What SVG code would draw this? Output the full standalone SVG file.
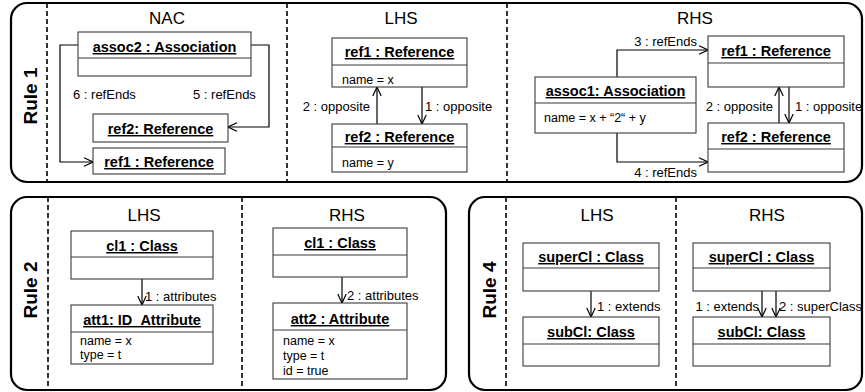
<svg xmlns="http://www.w3.org/2000/svg" width="865" height="392" viewBox="0 0 865 392">
<style>
.frame{fill:none;stroke:#000;stroke-width:2.2}
.dash{stroke:#000;stroke-width:1.6;stroke-dasharray:5,3}
.box{fill:#fff;stroke:#3a3a3a;stroke-width:1.1}
.div{stroke:#3a3a3a;stroke-width:1.1}
.name{font-family:"Liberation Sans",Arial,sans-serif;font-size:14.5px;font-weight:bold;text-decoration:underline;text-anchor:middle;fill:#000}
.attr{font-family:"Liberation Sans",Arial,sans-serif;font-size:12.5px;fill:#000}
.lbl{font-family:"Liberation Sans",Arial,sans-serif;font-size:13px;fill:#000}
.end{text-anchor:end}
.title{font-family:"Liberation Sans",Arial,sans-serif;font-size:17px;text-anchor:middle;fill:#000}
.rule{font-family:"Liberation Sans",Arial,sans-serif;font-size:19px;font-weight:bold;text-anchor:middle;fill:#000}
.conn{fill:none;stroke:#000;stroke-width:1.2;marker-end:url(#arr)}
</style>
<defs>
<marker id="arr" viewBox="0 0 10 10" refX="10" refY="5" markerWidth="10" markerHeight="10" markerUnits="userSpaceOnUse" orient="auto">
<path d="M1,0.8 L10,5 L1,9.2" fill="none" stroke="#000" stroke-width="1.2"/>
</marker>
</defs>

<!-- Frames -->
<g id="rule1-frame">
<rect class="frame" x="11" y="3" width="851" height="179" rx="16" ry="16"/>
<line class="dash" x1="47" y1="3" x2="47" y2="182"/>
<line class="dash" x1="287" y1="3" x2="287" y2="182"/>
<line class="dash" x1="507" y1="3" x2="507" y2="182"/>
<text class="rule" transform="translate(37,96) rotate(-90)">Rule 1</text>
<text class="title" x="167" y="24">NAC</text>
<text class="title" x="401" y="24">LHS</text>
<text class="title" x="695" y="24">RHS</text>
</g>
<g id="rule2-frame">
<rect class="frame" x="11" y="197" width="435" height="193" rx="16" ry="16"/>
<line class="dash" x1="48" y1="197" x2="48" y2="390"/>
<line class="dash" x1="242" y1="197" x2="242" y2="390"/>
<text class="rule" transform="translate(37,290) rotate(-90)">Rule 2</text>
<text class="title" x="144" y="221">LHS</text>
<text class="title" x="347" y="221">RHS</text>
</g>
<g id="rule4-frame">
<rect class="frame" x="469" y="197" width="393" height="193" rx="16" ry="16"/>
<line class="dash" x1="506" y1="197" x2="506" y2="390"/>
<line class="dash" x1="676" y1="197" x2="676" y2="390"/>
<text class="rule" transform="translate(496,290) rotate(-90)">Rule 4</text>
<text class="title" x="597" y="221">LHS</text>
<text class="title" x="767" y="221">RHS</text>
</g>

<!-- Connectors -->
<g id="connectors">
<polyline class="conn" points="78,45 60,45 60,162 93,162"/>
<polyline class="conn" points="251,45 269,45 269,127 228,127"/>
<text class="lbl" x="73" y="99">6 : refEnds</text>
<text class="lbl" x="193" y="99">5 : refEnds</text>

<line class="conn" x1="377" y1="124" x2="377" y2="87"/>
<line class="conn" x1="422" y1="87" x2="422" y2="124"/>
<text class="lbl end" x="370" y="111">2 : opposite</text>
<text class="lbl" x="425" y="111">1 : opposite</text>

<polyline class="conn" points="617,77 617,50 708,50"/>
<polyline class="conn" points="617,133 617,162 708,162"/>
<text class="lbl end" x="697" y="46">3 : refEnds</text>
<text class="lbl end" x="697" y="177">4 : refEnds</text>
<line class="conn" x1="779" y1="123" x2="779" y2="87"/>
<line class="conn" x1="789" y1="87" x2="789" y2="123"/>
<text class="lbl end" x="773" y="111">2 : opposite</text>
<text class="lbl" x="795" y="111">1 : opposite</text>

<line class="conn" x1="142" y1="279" x2="142" y2="305"/>
<text class="lbl" x="145" y="301">1 : attributes</text>
<line class="conn" x1="342" y1="277" x2="342" y2="303"/>
<text class="lbl" x="347" y="300">2 : attributes</text>

<line class="conn" x1="591" y1="291" x2="591" y2="317"/>
<text class="lbl" x="597" y="311">1 : extends</text>
<line class="conn" x1="762" y1="291" x2="762" y2="317"/>
<line class="conn" x1="776" y1="291" x2="776" y2="317"/>
<text class="lbl end" x="759" y="311">1 : extends</text>
<text class="lbl" x="779" y="311">2 : superClass</text>
</g>

<!-- Rule 1 NAC -->
<g id="nac-assoc2">
<rect class="box" x="78" y="32" width="173" height="44"/>
<line class="div" x1="78" y1="58" x2="251" y2="58"/>
<text class="name" x="164.5" y="52">assoc2 : Association</text>
</g>
<g id="nac-ref2">
<rect class="box" x="93" y="114" width="135" height="28"/>
<text class="name" x="160.5" y="134">ref2: Reference</text>
</g>
<g id="nac-ref1">
<rect class="box" x="93" y="148" width="132" height="26"/>
<text class="name" x="159" y="167">ref1 : Reference</text>
</g>

<!-- Rule 1 LHS -->
<g id="lhs1-ref1">
<rect class="box" x="332" y="38" width="135" height="49"/>
<line class="div" x1="332" y1="65" x2="467" y2="65"/>
<text class="name" x="399.5" y="57">ref1 : Reference</text>
<text class="attr" x="342" y="84">name = x</text>
</g>
<g id="lhs1-ref2">
<rect class="box" x="332" y="124" width="135" height="48"/>
<line class="div" x1="332" y1="147" x2="467" y2="147"/>
<text class="name" x="399.5" y="142">ref2 : Reference</text>
<text class="attr" x="342" y="167">name = y</text>
</g>

<!-- Rule 1 RHS -->
<g id="rhs1-assoc1">
<rect class="box" x="535" y="77" width="161" height="56"/>
<line class="div" x1="535" y1="103" x2="696" y2="103"/>
<text class="name" x="615.5" y="96">assoc1: Association</text>
<text class="attr" x="544" y="122">name = x + “2“ + y</text>
</g>
<g id="rhs1-ref1">
<rect class="box" x="708" y="36" width="136" height="51"/>
<line class="div" x1="708" y1="63" x2="844" y2="63"/>
<text class="name" x="776" y="56">ref1 : Reference</text>
</g>
<g id="rhs1-ref2">
<rect class="box" x="708" y="123" width="136" height="49"/>
<line class="div" x1="708" y1="149" x2="844" y2="149"/>
<text class="name" x="776" y="142">ref2 : Reference</text>
</g>

<!-- Rule 2 LHS -->
<g id="lhs2-cl1">
<rect class="box" x="71" y="231" width="142" height="48"/>
<line class="div" x1="71" y1="257" x2="213" y2="257"/>
<text class="name" x="142" y="251">cl1 : Class</text>
</g>
<g id="lhs2-att1">
<rect class="box" x="71" y="305" width="142" height="59"/>
<line class="div" x1="71" y1="332" x2="213" y2="332"/>
<text class="name" x="142" y="325">att1: ID_Attribute</text>
<text class="attr" x="80" y="345">name = x</text>
<text class="attr" x="80" y="359">type = t</text>
</g>

<!-- Rule 2 RHS -->
<g id="rhs2-cl1">
<rect class="box" x="273" y="228" width="134" height="49"/>
<line class="div" x1="273" y1="255" x2="407" y2="255"/>
<text class="name" x="340" y="248">cl1 : Class</text>
</g>
<g id="rhs2-att2">
<rect class="box" x="273" y="303" width="134" height="76"/>
<line class="div" x1="273" y1="330" x2="407" y2="330"/>
<text class="name" x="340" y="324">att2 : Attribute</text>
<text class="attr" x="283" y="345">name = x</text>
<text class="attr" x="283" y="360">type = t</text>
<text class="attr" x="283" y="375">id = true</text>
</g>

<!-- Rule 4 LHS -->
<g id="lhs4-supercl">
<rect class="box" x="523" y="243" width="136" height="48"/>
<line class="div" x1="523" y1="268" x2="659" y2="268"/>
<text class="name" x="591" y="262">superCl : Class</text>
</g>
<g id="lhs4-subcl">
<rect class="box" x="523" y="317" width="136" height="49"/>
<line class="div" x1="523" y1="344" x2="659" y2="344"/>
<text class="name" x="591" y="337">subCl: Class</text>
</g>

<!-- Rule 4 RHS -->
<g id="rhs4-supercl">
<rect class="box" x="693" y="243" width="137" height="48"/>
<line class="div" x1="693" y1="268" x2="830" y2="268"/>
<text class="name" x="761.5" y="262">superCl : Class</text>
</g>
<g id="rhs4-subcl">
<rect class="box" x="693" y="317" width="137" height="49"/>
<line class="div" x1="693" y1="344" x2="830" y2="344"/>
<text class="name" x="761.5" y="337">subCl: Class</text>
</g>
</svg>
